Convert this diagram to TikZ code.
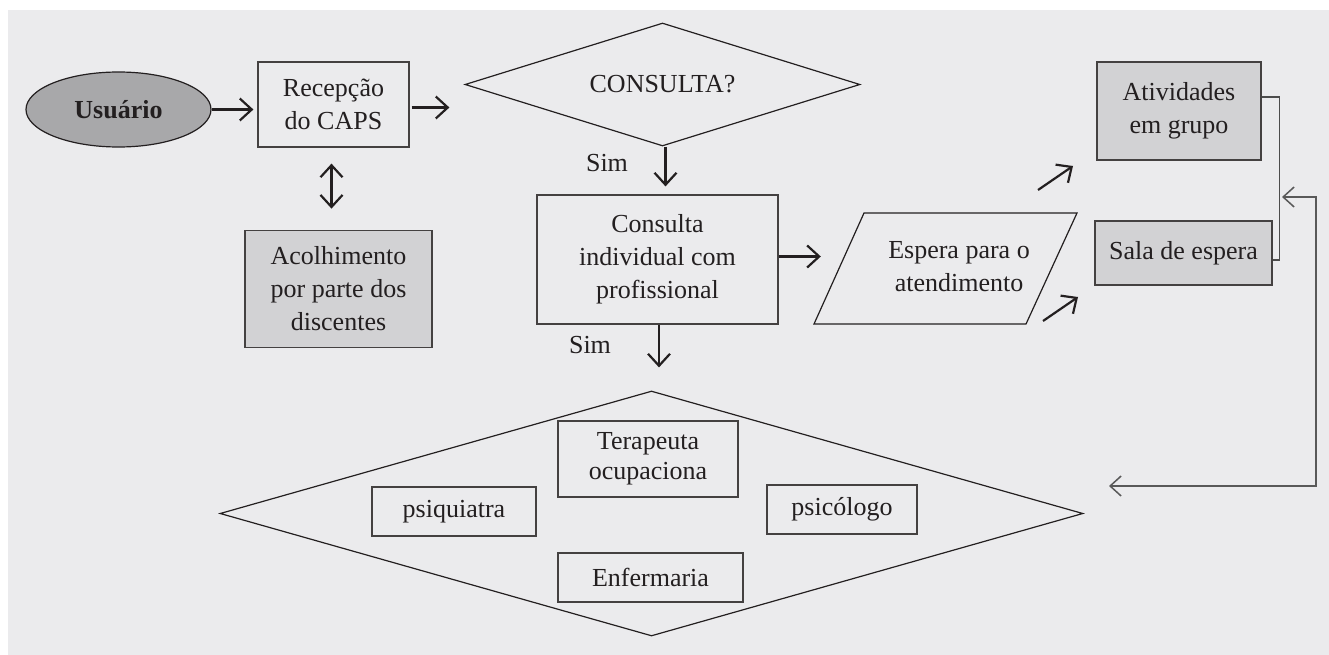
\documentclass[tikz,border=0pt]{standalone}
\usepackage{fontspec}
\setmainfont{Liberation Serif}
\usetikzlibrary{arrows.meta,positioning,shapes.geometric}
\definecolor{fundo}{RGB}{235,235,237}
\definecolor{cinza}{RGB}{210,210,212}
\definecolor{cinzaesc}{RGB}{168,168,170}
\definecolor{traco}{RGB}{35,31,32}
\tikzstyle{caixa}=[
	rectangle,
	draw=traco!85,
	line width=1.2pt,
	align=center,
	inner sep=0pt
]
\tikzstyle{destaque}=[caixa, fill=cinza]
\tikzstyle{decisao}=[
	diamond,
	draw=traco,
	line width=1.2pt,
	inner sep=0pt,
	align=center
]
\tikzstyle{borda}=[draw=traco, line width=1.2pt]
\tikzstyle{fluxo}=[
	-{Straight Barb[length=12pt,width=22pt]},
	line width=2.2pt,
	draw=traco
]
\tikzstyle{retorno}=[
	{Straight Barb[length=11pt,width=20pt]}-{Straight Barb[length=11pt,width=20pt]},
	line width=1.5pt,
	draw=black!65
]
\tikzstyle{chave}=[line width=1.3pt, draw=black!70]

\begin{document}
\begin{tikzpicture}[x=1pt, y=-1pt,
	every node/.style={font=\fontsize{26}{33}\selectfont, text=traco}]
\useasboundingbox (0,0) rectangle (1329,655);
\fill [fundo] (8,10) rectangle (1329,655);

% entrada
\node [ellipse, draw=traco, line width=1.2pt, fill=cinzaesc, inner sep=0pt,
	minimum width=185, minimum height=75, font=\fontsize{26}{33}\selectfont\bfseries]
	(usuario) at (118.5,109.5) {Usuário};
\node [caixa, minimum width=151, minimum height=85] (recepcao) at (333.5,104.5) {Recepção\\do CAPS};
\node [destaque, minimum width=187, minimum height=117] (acolhimento)
	[below=82pt of recepcao, xshift=5pt] {Acolhimento\\por parte dos\\discentes};

% decisao e consulta
\node [decisao, aspect=3.2, minimum width=395, minimum height=123] (consulta) at (662.5,84.5) {CONSULTA?};
\node [caixa, minimum width=241, minimum height=129] (individual) at (657.5,259.5)
	{Consulta\\individual com\\profissional};
\node (sim1) at (607,163) {Sim};
\node (sim2) at (590,345) {Sim};

% espera
\node [align=center, minimum width=190] (espera) at (959,267) {Espera para o\\atendimento};
\draw [borda] ([shift={(-95,-54)}]espera.center) -- ([shift={(118,-54)}]espera.center)
	-- ([shift={(67,57)}]espera.center) -- ([shift={(-145,57)}]espera.center) -- cycle;
\node [destaque, minimum width=164, minimum height=98] (atividades) at (1179,111) {Atividades\\em grupo};
\node [destaque, minimum width=177, minimum height=64] (sala) at (1183.5,253) {Sala de espera};

% equipe
\node [decisao, minimum width=863, minimum height=245] (equipe) at (651.5,513.5) {};
\node [caixa, minimum width=180, minimum height=76, font=\fontsize{26}{30}\selectfont] (terapeuta) at (648,459) {Terapeuta\\ocupaciona};
\node [caixa, minimum width=164, minimum height=49] (psiquiatra) at (454,511.5) {psiquiatra};
\node [caixa, minimum width=150, minimum height=49] (psicologo) at (842,509.5) {psicólogo};
\node [caixa, minimum width=185, minimum height=49] (enfermaria) at (650.5,577.5) {Enfermaria};

\coordinate (sobe1) at (1038,190);
\coordinate (sobe2) at (1073,166);
\coordinate (desce1) at (1043,321);
\coordinate (desce2) at (1078,297);
\coordinate (volta1) at (1282,197);
\coordinate (volta2) at (1109,486);

% ligacoes
\draw [fluxo, shorten >=4pt] (usuario.east) -- (usuario.east -| recepcao.west);
\draw [fluxo, shorten <=2pt, shorten >=15pt] ([yshift=-3pt]recepcao.east) -- ([yshift=-3pt]recepcao.east -| consulta.west);
\draw [fluxo, {Straight Barb[length=12pt,width=22pt]}-{Straight Barb[length=12pt,width=22pt]}, shorten <=16pt, shorten >=21pt]
	([xshift=-2pt]recepcao.south) -- ([xshift=-2pt]recepcao.south |- acolhimento.north);
\draw [fluxo, shorten >=8pt] ([xshift=3pt]consulta.south) -- ([xshift=3pt]consulta.south |- individual.north);
\draw [fluxo, shorten >=43pt] ([yshift=3pt]individual.east) -- ([yshift=3pt]individual.east -| espera.west);
\draw [fluxo, shorten >=23pt] ([xshift=1.5pt]individual.south) -- ([xshift=1.5pt]individual.south |- equipe.north);
\draw [fluxo] (sobe1) -- (sobe2);
\draw [fluxo] (desce1) -- (desce2);
\draw [chave] ([yshift=14pt]atividades.east) -- ++(18,0) |- ([yshift=-7pt]sala.east);
\draw [retorno] (volta1) -- (volta1 -| 1316,0) |- (volta2);
\end{tikzpicture}
\end{document}
